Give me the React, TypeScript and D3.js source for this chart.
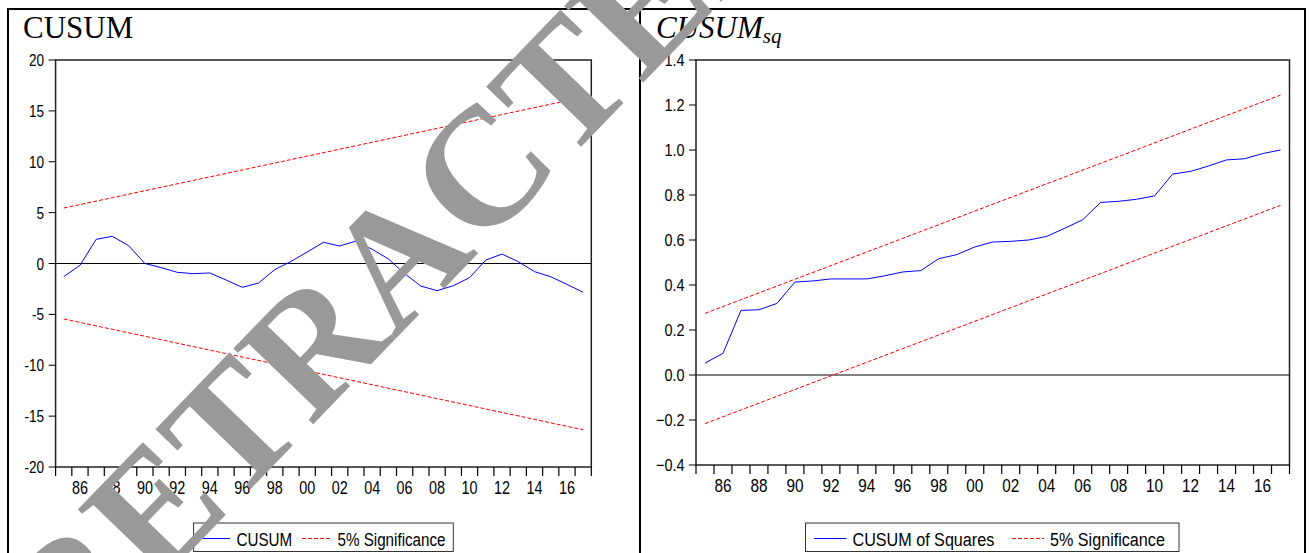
import React, { useEffect } from 'react';
import * as d3 from 'd3';

// ---------- data ----------
const years = [1985, 1986, 1987, 1988, 1989, 1990, 1991, 1992, 1993, 1994, 1995, 1996, 1997, 1998, 1999, 2000,
  2001, 2002, 2003, 2004, 2005, 2006, 2007, 2008, 2009, 2010, 2011, 2012, 2013, 2014, 2015, 2016, 2017];
const yearLabels = ['86', '88', '90', '92', '94', '96', '98', '00', '02', '04', '06', '08', '10', '12', '14', '16'];
const labelYears = [1986, 1988, 1990, 1992, 1994, 1996, 1998, 2000, 2002, 2004, 2006, 2008, 2010, 2012, 2014, 2016];

const cusum = [-1.3, -0.18, 2.38, 2.67, 1.75, 0.0, -0.4, -0.87, -1.0, -0.93, -1.62, -2.34, -1.92, -0.6, 0.2, 1.13,
  2.08, 1.72, 2.2, 1.4, 0.45, -1.0, -2.22, -2.67, -2.18, -1.39, 0.34, 0.93, 0.18, -0.8, -1.3, -2.05, -2.83];
const cusumUpper = [5.45, 16.34]; // first / last year
const cusumLower = [-5.45, -16.34];
const cusumTicks = [-20, -15, -10, -5, 0, 5, 10, 15, 20];

const cusumSq = [0.053, 0.096, 0.287, 0.29, 0.318, 0.413, 0.418, 0.427, 0.427, 0.427, 0.441, 0.458, 0.464, 0.517,
  0.535, 0.569, 0.591, 0.594, 0.6, 0.616, 0.652, 0.69, 0.767, 0.772, 0.781, 0.796, 0.893, 0.905, 0.929, 0.956,
  0.961, 0.984, 1.0];
const sqUpper = [0.274, 1.244];
const sqLower = [-0.216, 0.754];
const sqTicks = [-0.4, -0.2, 0.0, 0.2, 0.4, 0.6, 0.8, 1.0, 1.2, 1.4];

const SANS = 'Liberation Sans, Arial, sans-serif';
const SERIF = 'Liberation Serif, Times New Roman, serif';

function SText({ x, y, sx, size, anchor, children, fill = '#000' }: any) {
  return (
    <text transform={`translate(${x},${y}) scale(${sx},1)`} fontFamily={SANS} fontSize={size}
      textAnchor={anchor} fill={fill}>{children}</text>
  );
}

function Panel(p: any) {
  const { x0, x1, y0, y1, domain, ticks, fmt, series, upper, lower, sx, ySize, xSize, legend } = p;
  const xb = d3.scaleBand<string>().domain(years.map(String)).range([x0, x1]).padding(0);
  const cx = (yr: number) => (xb(String(yr)) as number) + xb.bandwidth() / 2;
  const y = d3.scaleLinear().domain(domain).range([y1, y0]);
  const line = d3.line<number>().x((d, i) => cx(years[i])).y(d => y(d));
  const first = years[0], last = years[years.length - 1];
  const boundaries = years.map(yr => xb(String(yr)) as number).concat([x1]);
  return (
    <g>
      <line x1={x0} x2={x1} y1={y(0)} y2={y(0)} stroke="#000" strokeWidth={1} />
      <line x1={cx(first)} y1={y(upper[0])} x2={cx(last)} y2={y(upper[1])} stroke="#ff0000" strokeWidth={1} strokeDasharray="4,2" />
      <line x1={cx(first)} y1={y(lower[0])} x2={cx(last)} y2={y(lower[1])} stroke="#ff0000" strokeWidth={1} strokeDasharray="4,2" />
      <path d={line(series) as string} fill="none" stroke="#0000ff" strokeWidth={1} />
      <rect x={x0} y={y0} width={x1 - x0} height={y1 - y0} fill="none" stroke="#222" strokeWidth={1.5} />
      {ticks.map((t: number) => (
        <g key={t}>
          <line x1={x0 - 7} x2={x0} y1={y(t)} y2={y(t)} stroke="#000" strokeWidth={1} />
          <SText x={x0 - 11.5} y={y(t) + ySize * 0.36} sx={sx} size={ySize} anchor="end">{fmt(t)}</SText>
        </g>
      ))}
      {boundaries.map((b, i) => (
        <line key={i} x1={b} x2={b} y1={y1} y2={y1 + 9} stroke="#000" strokeWidth={1.2} />
      ))}
      {labelYears.map((yr, i) => (
        <SText key={yr} x={cx(yr)} y={y1 + 27} sx={sx} size={xSize} anchor="middle">{yearLabels[i]}</SText>
      ))}
      <rect x={legend.bx0} y={523} width={legend.bx1 - legend.bx0} height={28.5} fill="#fff" stroke="#333" strokeWidth={1} />
      <line x1={legend.l1[0]} x2={legend.l1[1]} y1={538.5} y2={538.5} stroke="#0000ff" strokeWidth={1} />
      <SText x={legend.t1} y={546} sx={sx} size={19}>{legend.name}</SText>
      <line x1={legend.l2[0]} x2={legend.l2[1]} y1={538.5} y2={538.5} stroke="#ff0000" strokeWidth={1} strokeDasharray="4,2" />
      <SText x={legend.t2} y={546} sx={sx} size={19}>5% Significance</SText>
    </g>
  );
}

export default function App() {
  useEffect(() => { document.body.style.margin = '0'; }, []);
  return (
    <svg width={1309} height={553} style={{ display: 'block', position: 'absolute', left: 0, top: 0 }}>
      <rect x={0} y={0} width={1309} height={553} fill="#fff" />
      <path d="M8,560 V9 H1305 V560 M640,9 V560" fill="none" stroke="#000" strokeWidth={2} />
      <text x={23} y={38} fontFamily={SERIF} fontSize={31}>CUSUM</text>
      <text x={656} y={38} fontFamily={SERIF} fontSize={31} fontStyle="italic">CUSUM<tspan fontSize={21} dy={5}>sq</tspan></text>
      <Panel x0={55.6} x1={591.3} y0={60} y1={467} domain={[-20, 20]} ticks={cusumTicks}
        fmt={(t: number) => String(t)} series={cusum} upper={cusumUpper} lower={cusumLower}
        sx={0.8} ySize={17} xSize={18}
        legend={{ bx0: 193.6, bx1: 453.3, l1: [202, 230], t1: 236.5, l2: [302, 332], t2: 337.5, name: 'CUSUM' }} />
      <Panel x0={696} x1={1289.5} y0={60} y1={465} domain={[-0.4, 1.4]} ticks={sqTicks}
        fmt={(t: number) => d3.format('.1f')(t)} series={cusumSq} upper={sqUpper} lower={sqLower}
        sx={0.85} ySize={17} xSize={18}
        legend={{ bx0: 805.5, bx1: 1179, l1: [814, 846.5], t1: 852.5, l2: [1012, 1044], t2: 1050, name: 'CUSUM of Squares' }} />
      <text x={437} y={296} transform="rotate(-46,437,296)" fontFamily={SERIF} fontSize={168} fontWeight="bold"
        textAnchor="middle" fill="#999999">RETRACTED</text>
    </svg>
  );
}
